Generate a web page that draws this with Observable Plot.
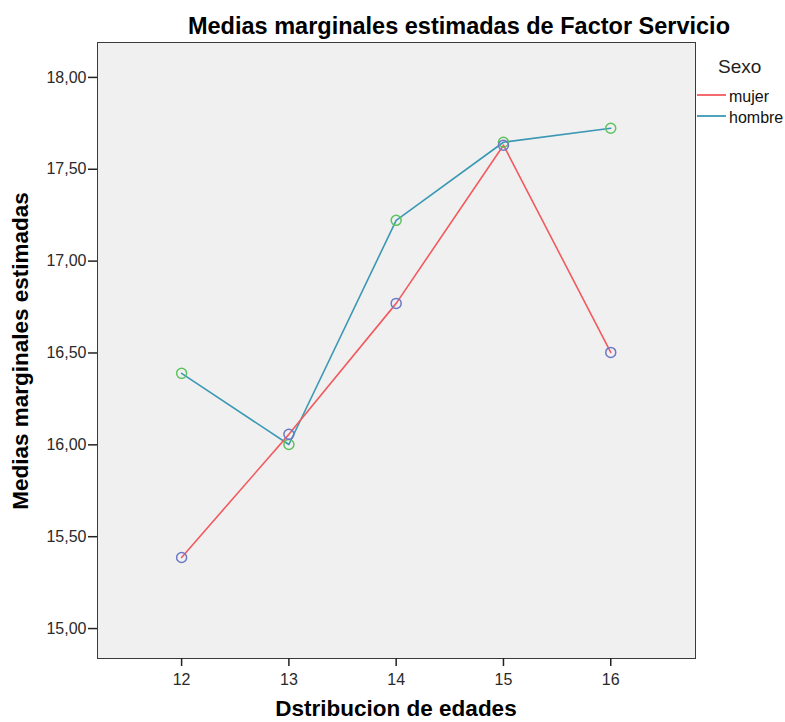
<!DOCTYPE html>
<html>
<head>
<meta charset="utf-8">
<script src="https://cdn.jsdelivr.net/npm/d3@7"></script>
<script src="https://cdn.jsdelivr.net/npm/@observablehq/plot@0.6"></script>
<style>
  html, body { margin: 0; padding: 0; background: #fff; }
  #wrap { position: relative; width: 785px; height: 722px; font-family: "Liberation Sans", Arial, sans-serif; }
  #wrap svg { position: absolute; left: 0; top: 0; }
  .t { position: absolute; white-space: nowrap; color: #000; line-height: 1; }
</style>
</head>
<body>
<div id="wrap"></div>
<script>
const edades = [12, 13, 14, 15, 16];
const mujer = [15.387, 16.057, 16.770, 17.631, 16.503];
const hombre = [16.389, 16.002, 17.222, 17.647, 17.723];
const yTicks = [15, 15.5, 16, 16.5, 17, 17.5, 18];
const sexos = ["mujer", "hombre"];
const lineColors = ["#f25a5f", "#3a98b4"];
const dotColors = ["#6c78c6", "#5cc35e"];

const rows = [];
edades.forEach((e, i) => rows.push({edad: e, media: mujer[i], sexo: "mujer"}));
edades.forEach((e, i) => rows.push({edad: e, media: hombre[i], sexo: "hombre"}));

const fmt = v => d3.format(".2f")(v).replace(".", ",");

const chart = Plot.plot({
  width: 785,
  height: 722,
  marginLeft: 97,
  marginRight: 90,
  marginTop: 42,
  marginBottom: 64,
  style: {fontFamily: "Liberation Sans, Arial, sans-serif", fontSize: "16px", color: "#2a2a2a", background: "transparent"},
  x: {domain: [11.216, 16.79], label: null},
  y: {domain: [14.837, 18.19], label: null},
  marks: [
    Plot.frame({fill: "#f0f0f0", stroke: "#3a3a3a", strokeWidth: 1}),
    Plot.line(rows.filter(d => d.sexo === "hombre"), {x: "edad", y: "media", stroke: lineColors[1], strokeWidth: 1.6}),
    Plot.line(rows.filter(d => d.sexo === "mujer"), {x: "edad", y: "media", stroke: lineColors[0], strokeWidth: 1.6}),
    Plot.dot(rows.filter(d => d.sexo === "hombre"), {x: "edad", y: "media", r: 5, stroke: dotColors[1], strokeWidth: 1.5, fill: "none"}),
    Plot.dot(rows.filter(d => d.sexo === "mujer"), {x: "edad", y: "media", r: 5, stroke: dotColors[0], strokeWidth: 1.5, fill: "none"}),
    Plot.axisX({ticks: edades, tickFormat: d => String(d), tickSize: 8, tickPadding: 7, stroke: "#222", strokeWidth: 1.5, label: null, fontSize: 16}),
    Plot.axisY({ticks: yTicks, tickFormat: fmt, tickSize: 9, tickPadding: 2, stroke: "#222", strokeWidth: 1.5, label: null, fontSize: 16})
  ]
});

const wrap = document.getElementById("wrap");
wrap.appendChild(chart);

function addText(txt, style) {
  const d = document.createElement("div");
  d.className = "t";
  d.textContent = txt;
  Object.assign(d.style, style);
  wrap.appendChild(d);
  return d;
}
addText("Medias marginales estimadas de Factor Servicio", {left: "0", width: "918px", textAlign: "center", top: "15px", fontSize: "23.5px", fontWeight: "bold"});
addText("Dstribucion de edades", {left: "0", width: "792px", textAlign: "center", top: "698px", fontSize: "22.5px", fontWeight: "bold"});
addText("Medias marginales estimadas", {left: "21px", top: "351px", fontSize: "22.5px", fontWeight: "bold", transform: "translate(-50%, -50%) rotate(-90deg)", transformOrigin: "center"});
addText("Sexo", {left: "718px", top: "57px", fontSize: "19px", color: "#222"});

// legend
const legSvg = d3.select(wrap).append("svg").attr("width", 90).attr("height", 60)
  .style("left", "695px").style("top", "85px").style("position", "absolute");
sexos.forEach((s, i) => {
  const y = 10 + i * 21;
  legSvg.append("line").attr("x1", 2).attr("x2", 31).attr("y1", y).attr("y2", y)
    .attr("stroke", lineColors[i]).attr("stroke-width", 1.8);
  legSvg.append("text").attr("x", 34).attr("y", y + 6.5).text(s)
    .attr("font-family", "Liberation Sans, Arial, sans-serif").attr("font-size", 16).attr("fill", "#111");
});
</script>
</body>
</html>
